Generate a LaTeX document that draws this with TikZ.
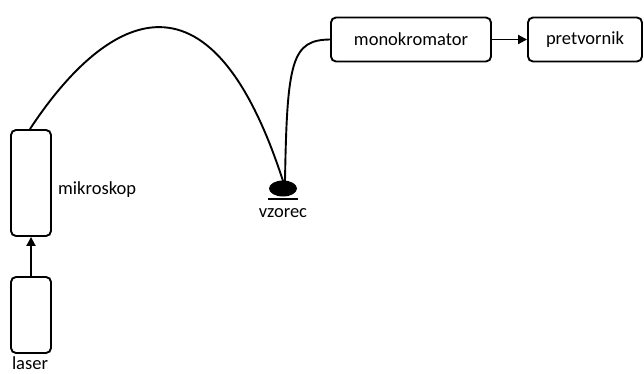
\documentclass[tikz,border=0pt]{standalone}
\usepackage{fontspec}
\setmainfont{Carlito}
\usetikzlibrary{arrows.meta,shapes.geometric}
\begin{document}
\begin{tikzpicture}[x=1pt,y=-1pt,
  box/.style={draw,line width=1.9pt,rounded corners=5pt,inner sep=0pt},
  lbl/.style={font=\fontsize{18.5}{22}\selectfont,inner sep=0pt},
  conn/.style={line width=1.9pt},
  arr/.style={conn,-{Triangle[length=9pt,width=9pt]}}]
\useasboundingbox (0,0) rectangle (644,374);
\node[box,minimum width=40pt,minimum height=106pt] (mik) at (31,183) {};
\node[box,minimum width=40pt,minimum height=76pt] (las) at (31,315) {};
\node[box,minimum width=160pt,minimum height=44pt,lbl] (mono) at (411,39.5) {monokromator};
\node[box,minimum width=114pt,minimum height=44pt,lbl] (pret) at (585,39.5) {pretvornik};
\node[lbl,anchor=west] (mikl) at (58,190) {mikroskop};
\node[lbl,anchor=base] (lasl) at (30,369.5) {laser};
\node[fill=black,ellipse,minimum width=28pt,minimum height=16pt,inner sep=0pt] (vz) at (283,188.5) {};
\coordinate (ulL) at (268,199);
\coordinate (ulR) at (298,199);
\draw[conn] (ulL) -- (ulR);
\node[lbl] (vzl) at (283,213) {vzorec};
\draw[arr] (las.north) -- (mik.south);
\draw[arr] (mono.east) -- (pret.west);
\coordinate (mtop) at (30,129);
\coordinate (vtop) at (283,181);
\coordinate (vtop2) at (285,181);
\draw[conn] (mtop) .. controls (95,30) and (205,-60) .. (vtop);
\draw[conn] (vtop2) .. controls (287,60) and (292,40) .. (mono.west);
\end{tikzpicture}
\end{document}
